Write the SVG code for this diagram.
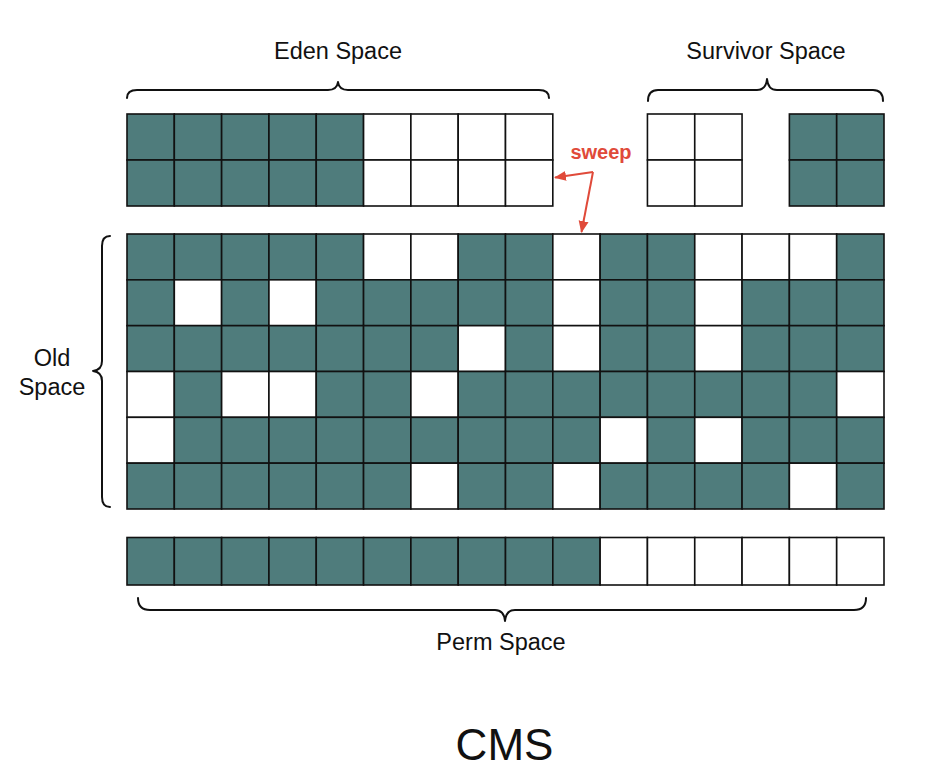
<svg xmlns="http://www.w3.org/2000/svg" width="928" height="782" viewBox="0 0 928 782">
<style>
.g{fill:#4f7c7c;stroke:#111;stroke-width:1.6}
.w{fill:#fff;stroke:#111;stroke-width:1.6}
.brace{fill:none;stroke:#111;stroke-width:2;stroke-linecap:round;stroke-linejoin:round}
.lbl{font-family:"Liberation Sans",Arial,sans-serif;font-size:23.5px;fill:#111;text-anchor:middle}
.title{font-family:"Liberation Sans",Arial,sans-serif;font-size:44px;fill:#111;text-anchor:middle}
.sweep{font-family:"Liberation Sans",Arial,sans-serif;font-size:20px;font-weight:bold;fill:#e04a3a;text-anchor:middle}
.arrow{fill:none;stroke:#e04a3a;stroke-width:2}
</style>
<defs>
<marker id="ah" markerUnits="userSpaceOnUse" markerWidth="12" markerHeight="12" viewBox="0 0 12 12" refX="11" refY="6" orient="auto">
<path d="M0,1 L12,6 L0,11 z" fill="#e04a3a"/>
</marker>
</defs>
<rect width="928" height="782" fill="#fff"/>

<g id="eden-space">
<path class="brace" d="M127,98 Q127,90 137,90 L328,90 Q337,90 338,82 Q339,90 348,90 L539,90 Q549,90 549,98"/>
<text class="lbl" x="338" y="59">Eden Space</text>
<rect class="g" x="127" y="114" width="47.31" height="46"/>
<rect class="g" x="174.31" y="114" width="47.31" height="46"/>
<rect class="g" x="221.63" y="114" width="47.31" height="46"/>
<rect class="g" x="268.94" y="114" width="47.31" height="46"/>
<rect class="g" x="316.25" y="114" width="47.31" height="46"/>
<rect class="w" x="363.56" y="114" width="47.31" height="46"/>
<rect class="w" x="410.88" y="114" width="47.31" height="46"/>
<rect class="w" x="458.19" y="114" width="47.31" height="46"/>
<rect class="w" x="505.5" y="114" width="47.31" height="46"/>
<rect class="g" x="127" y="160" width="47.31" height="46"/>
<rect class="g" x="174.31" y="160" width="47.31" height="46"/>
<rect class="g" x="221.63" y="160" width="47.31" height="46"/>
<rect class="g" x="268.94" y="160" width="47.31" height="46"/>
<rect class="g" x="316.25" y="160" width="47.31" height="46"/>
<rect class="w" x="363.56" y="160" width="47.31" height="46"/>
<rect class="w" x="410.88" y="160" width="47.31" height="46"/>
<rect class="w" x="458.19" y="160" width="47.31" height="46"/>
<rect class="w" x="505.5" y="160" width="47.31" height="46"/>
</g>

<g id="survivor-space">
<path class="brace" d="M648,101 Q648,90 658,90 L757,90 Q766,90 767,79 Q768,90 777,90 L873,90 Q883,90 883,101"/>
<text class="lbl" x="766" y="59">Survivor Space</text>
<rect class="w" x="647.44" y="114" width="47.31" height="46"/>
<rect class="w" x="694.75" y="114" width="47.31" height="46"/>
<rect class="w" x="647.44" y="160" width="47.31" height="46"/>
<rect class="w" x="694.75" y="160" width="47.31" height="46"/>
<rect class="g" x="789.38" y="114" width="47.31" height="46"/>
<rect class="g" x="836.69" y="114" width="47.31" height="46"/>
<rect class="g" x="789.38" y="160" width="47.31" height="46"/>
<rect class="g" x="836.69" y="160" width="47.31" height="46"/>
</g>

<g id="old-space">
<path class="brace" d="M110,236 Q102,236 102,246 L102,361 Q102,370 93,371 Q102,372 102,381 L102,497 Q102,507 110,507"/>
<text class="lbl" x="52" y="365.5">Old</text>
<text class="lbl" x="52" y="394.5">Space</text>
<!-- row 1 -->
<rect class="g" x="127" y="234" width="47.31" height="45.83"/>
<rect class="g" x="174.31" y="234" width="47.31" height="45.83"/>
<rect class="g" x="221.63" y="234" width="47.31" height="45.83"/>
<rect class="g" x="268.94" y="234" width="47.31" height="45.83"/>
<rect class="g" x="316.25" y="234" width="47.31" height="45.83"/>
<rect class="w" x="363.56" y="234" width="47.31" height="45.83"/>
<rect class="w" x="410.88" y="234" width="47.31" height="45.83"/>
<rect class="g" x="458.19" y="234" width="47.31" height="45.83"/>
<rect class="g" x="505.5" y="234" width="47.31" height="45.83"/>
<rect class="w" x="552.81" y="234" width="47.31" height="45.83"/>
<rect class="g" x="600.13" y="234" width="47.31" height="45.83"/>
<rect class="g" x="647.44" y="234" width="47.31" height="45.83"/>
<rect class="w" x="694.75" y="234" width="47.31" height="45.83"/>
<rect class="w" x="742.06" y="234" width="47.31" height="45.83"/>
<rect class="w" x="789.38" y="234" width="47.31" height="45.83"/>
<rect class="g" x="836.69" y="234" width="47.31" height="45.83"/>
<!-- row 2 -->
<rect class="g" x="127" y="279.83" width="47.31" height="45.83"/>
<rect class="w" x="174.31" y="279.83" width="47.31" height="45.83"/>
<rect class="g" x="221.63" y="279.83" width="47.31" height="45.83"/>
<rect class="w" x="268.94" y="279.83" width="47.31" height="45.83"/>
<rect class="g" x="316.25" y="279.83" width="47.31" height="45.83"/>
<rect class="g" x="363.56" y="279.83" width="47.31" height="45.83"/>
<rect class="g" x="410.88" y="279.83" width="47.31" height="45.83"/>
<rect class="g" x="458.19" y="279.83" width="47.31" height="45.83"/>
<rect class="g" x="505.5" y="279.83" width="47.31" height="45.83"/>
<rect class="w" x="552.81" y="279.83" width="47.31" height="45.83"/>
<rect class="g" x="600.13" y="279.83" width="47.31" height="45.83"/>
<rect class="g" x="647.44" y="279.83" width="47.31" height="45.83"/>
<rect class="w" x="694.75" y="279.83" width="47.31" height="45.83"/>
<rect class="g" x="742.06" y="279.83" width="47.31" height="45.83"/>
<rect class="g" x="789.38" y="279.83" width="47.31" height="45.83"/>
<rect class="g" x="836.69" y="279.83" width="47.31" height="45.83"/>
<!-- row 3 -->
<rect class="g" x="127" y="325.67" width="47.31" height="45.83"/>
<rect class="g" x="174.31" y="325.67" width="47.31" height="45.83"/>
<rect class="g" x="221.63" y="325.67" width="47.31" height="45.83"/>
<rect class="g" x="268.94" y="325.67" width="47.31" height="45.83"/>
<rect class="g" x="316.25" y="325.67" width="47.31" height="45.83"/>
<rect class="g" x="363.56" y="325.67" width="47.31" height="45.83"/>
<rect class="g" x="410.88" y="325.67" width="47.31" height="45.83"/>
<rect class="w" x="458.19" y="325.67" width="47.31" height="45.83"/>
<rect class="g" x="505.5" y="325.67" width="47.31" height="45.83"/>
<rect class="w" x="552.81" y="325.67" width="47.31" height="45.83"/>
<rect class="g" x="600.13" y="325.67" width="47.31" height="45.83"/>
<rect class="g" x="647.44" y="325.67" width="47.31" height="45.83"/>
<rect class="w" x="694.75" y="325.67" width="47.31" height="45.83"/>
<rect class="g" x="742.06" y="325.67" width="47.31" height="45.83"/>
<rect class="g" x="789.38" y="325.67" width="47.31" height="45.83"/>
<rect class="g" x="836.69" y="325.67" width="47.31" height="45.83"/>
<!-- row 4 -->
<rect class="w" x="127" y="371.5" width="47.31" height="45.83"/>
<rect class="g" x="174.31" y="371.5" width="47.31" height="45.83"/>
<rect class="w" x="221.63" y="371.5" width="47.31" height="45.83"/>
<rect class="w" x="268.94" y="371.5" width="47.31" height="45.83"/>
<rect class="g" x="316.25" y="371.5" width="47.31" height="45.83"/>
<rect class="g" x="363.56" y="371.5" width="47.31" height="45.83"/>
<rect class="w" x="410.88" y="371.5" width="47.31" height="45.83"/>
<rect class="g" x="458.19" y="371.5" width="47.31" height="45.83"/>
<rect class="g" x="505.5" y="371.5" width="47.31" height="45.83"/>
<rect class="g" x="552.81" y="371.5" width="47.31" height="45.83"/>
<rect class="g" x="600.13" y="371.5" width="47.31" height="45.83"/>
<rect class="g" x="647.44" y="371.5" width="47.31" height="45.83"/>
<rect class="g" x="694.75" y="371.5" width="47.31" height="45.83"/>
<rect class="g" x="742.06" y="371.5" width="47.31" height="45.83"/>
<rect class="g" x="789.38" y="371.5" width="47.31" height="45.83"/>
<rect class="w" x="836.69" y="371.5" width="47.31" height="45.83"/>
<!-- row 5 -->
<rect class="w" x="127" y="417.33" width="47.31" height="45.83"/>
<rect class="g" x="174.31" y="417.33" width="47.31" height="45.83"/>
<rect class="g" x="221.63" y="417.33" width="47.31" height="45.83"/>
<rect class="g" x="268.94" y="417.33" width="47.31" height="45.83"/>
<rect class="g" x="316.25" y="417.33" width="47.31" height="45.83"/>
<rect class="g" x="363.56" y="417.33" width="47.31" height="45.83"/>
<rect class="g" x="410.88" y="417.33" width="47.31" height="45.83"/>
<rect class="g" x="458.19" y="417.33" width="47.31" height="45.83"/>
<rect class="g" x="505.5" y="417.33" width="47.31" height="45.83"/>
<rect class="g" x="552.81" y="417.33" width="47.31" height="45.83"/>
<rect class="w" x="600.13" y="417.33" width="47.31" height="45.83"/>
<rect class="g" x="647.44" y="417.33" width="47.31" height="45.83"/>
<rect class="w" x="694.75" y="417.33" width="47.31" height="45.83"/>
<rect class="g" x="742.06" y="417.33" width="47.31" height="45.83"/>
<rect class="g" x="789.38" y="417.33" width="47.31" height="45.83"/>
<rect class="g" x="836.69" y="417.33" width="47.31" height="45.83"/>
<!-- row 6 -->
<rect class="g" x="127" y="463.17" width="47.31" height="45.83"/>
<rect class="g" x="174.31" y="463.17" width="47.31" height="45.83"/>
<rect class="g" x="221.63" y="463.17" width="47.31" height="45.83"/>
<rect class="g" x="268.94" y="463.17" width="47.31" height="45.83"/>
<rect class="g" x="316.25" y="463.17" width="47.31" height="45.83"/>
<rect class="g" x="363.56" y="463.17" width="47.31" height="45.83"/>
<rect class="w" x="410.88" y="463.17" width="47.31" height="45.83"/>
<rect class="g" x="458.19" y="463.17" width="47.31" height="45.83"/>
<rect class="g" x="505.5" y="463.17" width="47.31" height="45.83"/>
<rect class="w" x="552.81" y="463.17" width="47.31" height="45.83"/>
<rect class="g" x="600.13" y="463.17" width="47.31" height="45.83"/>
<rect class="g" x="647.44" y="463.17" width="47.31" height="45.83"/>
<rect class="g" x="694.75" y="463.17" width="47.31" height="45.83"/>
<rect class="g" x="742.06" y="463.17" width="47.31" height="45.83"/>
<rect class="w" x="789.38" y="463.17" width="47.31" height="45.83"/>
<rect class="g" x="836.69" y="463.17" width="47.31" height="45.83"/>
</g>

<g id="perm-space">
<rect class="g" x="127" y="537.5" width="47.31" height="47.5"/>
<rect class="g" x="174.31" y="537.5" width="47.31" height="47.5"/>
<rect class="g" x="221.63" y="537.5" width="47.31" height="47.5"/>
<rect class="g" x="268.94" y="537.5" width="47.31" height="47.5"/>
<rect class="g" x="316.25" y="537.5" width="47.31" height="47.5"/>
<rect class="g" x="363.56" y="537.5" width="47.31" height="47.5"/>
<rect class="g" x="410.88" y="537.5" width="47.31" height="47.5"/>
<rect class="g" x="458.19" y="537.5" width="47.31" height="47.5"/>
<rect class="g" x="505.5" y="537.5" width="47.31" height="47.5"/>
<rect class="g" x="552.81" y="537.5" width="47.31" height="47.5"/>
<rect class="w" x="600.13" y="537.5" width="47.31" height="47.5"/>
<rect class="w" x="647.44" y="537.5" width="47.31" height="47.5"/>
<rect class="w" x="694.75" y="537.5" width="47.31" height="47.5"/>
<rect class="w" x="742.06" y="537.5" width="47.31" height="47.5"/>
<rect class="w" x="789.38" y="537.5" width="47.31" height="47.5"/>
<rect class="w" x="836.69" y="537.5" width="47.31" height="47.5"/>
<path class="brace" d="M138,598 Q138,610 150,610 L495,610 Q504,610 505,621 Q506,610 515,610 L854,610 Q866,610 866,598"/>
<text class="lbl" x="501" y="650">Perm Space</text>
</g>

<g id="sweep-label">
<text class="sweep" x="601" y="159">sweep</text>
</g>

<g id="connectors">
<path class="arrow" d="M593,172 L555,177.5" marker-end="url(#ah)"/>
<path class="arrow" d="M593,172 L581.5,232" marker-end="url(#ah)"/>
</g>

<text class="title" x="504.5" y="760">CMS</text>
</svg>
